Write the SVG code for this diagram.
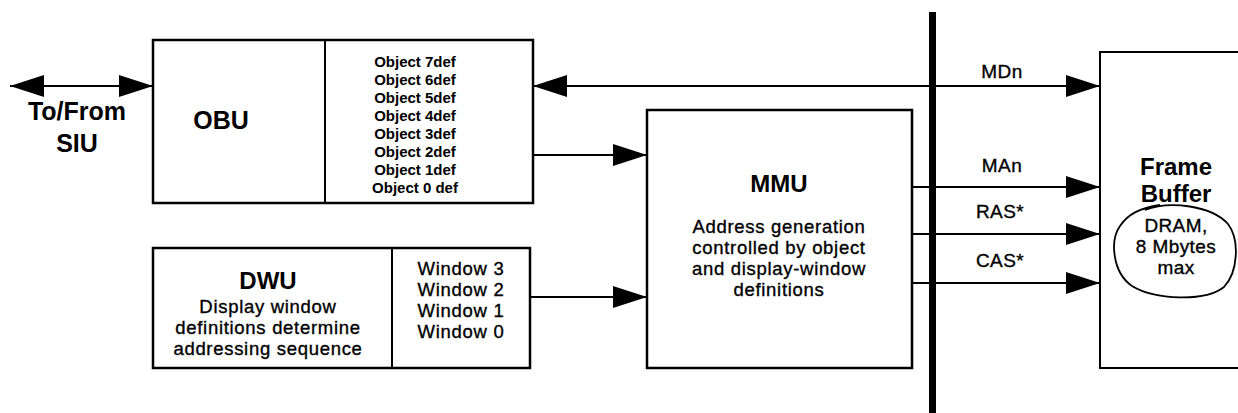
<svg xmlns="http://www.w3.org/2000/svg" width="1238" height="413" viewBox="0 0 1238 413">
<style>
.box{fill:#fff;stroke:#000;stroke-width:2.5}
.ln{fill:none;stroke:#000;stroke-width:2}
text{font-family:"Liberation Sans",Arial,sans-serif;fill:#000}
.big{font-size:25px;font-weight:bold;text-anchor:middle}
.ttl{font-size:24px;font-weight:bold;text-anchor:middle}
.obj{font-size:15px;font-weight:bold;text-anchor:middle}
.body{font-size:18.5px;letter-spacing:0.7px;text-anchor:middle;stroke:#000;stroke-width:0.35}
.sig{font-size:19px;letter-spacing:0.4px;text-anchor:middle;stroke:#000;stroke-width:0.35}
</style>
<defs>
<marker id="ah" markerUnits="userSpaceOnUse" markerWidth="34" markerHeight="22" viewBox="0 0 34 22" refX="34" refY="11" orient="auto-start-reverse">
<path d="M0,0 L34,11 L0,22 Z" fill="#000"/>
</marker>
</defs>
<g id="bus-bar"><rect x="929" y="12" width="7" height="401" fill="#000"/></g>
<g id="connectors">
<path class="ln" d="M10,86 H153" marker-start="url(#ah)" marker-end="url(#ah)"/>
<path class="ln" d="M1100,86 H533" marker-start="url(#ah)" marker-end="url(#ah)"/>
<path class="ln" d="M533,155 H647" marker-end="url(#ah)"/>
<path class="ln" d="M530,297 H647" marker-end="url(#ah)"/>
<path class="ln" d="M912,187 H1100" marker-end="url(#ah)"/>
<path class="ln" d="M912,234 H1100" marker-end="url(#ah)"/>
<path class="ln" d="M912,283 H1100" marker-end="url(#ah)"/>
</g>
<g id="siu-label">
<text class="big" x="77" y="120">To/From</text>
<text class="big" x="77" y="152">SIU</text>
</g>
<g id="obu">
<rect class="box" x="153" y="40" width="380" height="163"/>
<line class="ln" x1="325" y1="40" x2="325" y2="203"/>
<text class="big" x="221" y="129">OBU</text>
<text class="obj" x="415" y="67">Object 7def</text>
<text class="obj" x="415" y="85">Object 6def</text>
<text class="obj" x="415" y="103">Object 5def</text>
<text class="obj" x="415" y="121">Object 4def</text>
<text class="obj" x="415" y="139">Object 3def</text>
<text class="obj" x="415" y="157">Object 2def</text>
<text class="obj" x="415" y="175">Object 1def</text>
<text class="obj" x="415" y="193">Object 0 def</text>
</g>
<g id="dwu">
<rect class="box" x="153" y="248" width="377" height="120"/>
<line class="ln" x1="392" y1="248" x2="392" y2="368"/>
<text class="ttl" x="268" y="289">DWU</text>
<text class="body" x="268" y="313">Display window</text>
<text class="body" x="268" y="334">definitions determine</text>
<text class="body" x="268" y="355">addressing sequence</text>
<text class="body" x="461" y="275">Window 3</text>
<text class="body" x="461" y="296">Window 2</text>
<text class="body" x="461" y="317">Window 1</text>
<text class="body" x="461" y="338">Window 0</text>
</g>
<g id="mmu">
<rect class="box" x="647" y="110" width="265" height="258"/>
<text class="ttl" x="779" y="192">MMU</text>
<text class="body" x="779" y="233">Address generation</text>
<text class="body" x="779" y="254">controlled by object</text>
<text class="body" x="779" y="275">and display-window</text>
<text class="body" x="779" y="296">definitions</text>
</g>
<g id="signal-labels">
<text class="sig" x="1002" y="78">MDn</text>
<text class="sig" x="1002" y="172">MAn</text>
<text class="sig" x="1000" y="218">RAS*</text>
<text class="sig" x="1000" y="267">CAS*</text>
</g>
<g id="frame-buffer">
<rect x="1100" y="52" width="150" height="316" fill="#fff" stroke="#000" stroke-width="2"/>
<text class="ttl" x="1176" y="175">Frame</text>
<text class="ttl" x="1176" y="202">Buffer</text>
<path d="M1145,210 C1170,200 1212,206 1228,224 C1240,240 1238,272 1224,287 C1205,302 1155,300 1132,286 C1112,272 1110,240 1120,226 C1128,214 1140,208 1160,205" fill="none" stroke="#000" stroke-width="1.8"/>
<text class="sig" x="1176" y="232">DRAM,</text>
<text class="sig" x="1176" y="253">8 Mbytes</text>
<text class="sig" x="1176" y="274">max</text>
</g>
</svg>
